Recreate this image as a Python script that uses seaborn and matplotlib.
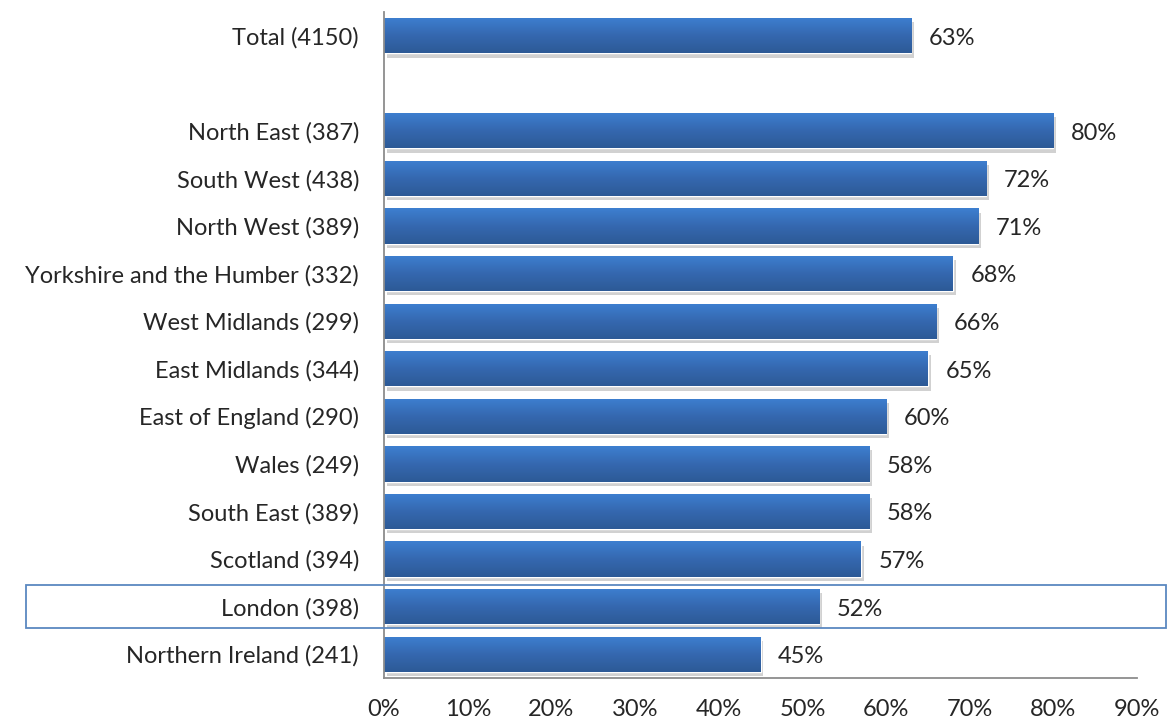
import matplotlib
matplotlib.use("Agg")
import matplotlib.pyplot as plt
import matplotlib.patheffects as pe
from matplotlib.colors import LinearSegmentedColormap
from matplotlib.patches import Rectangle
import numpy as np
import pandas as pd
import seaborn as sns

labels = ["Total (4150)", "North East (387)", "South West (438)", "North West (389)",
          "Yorkshire and the Humber (332)", "West Midlands (299)", "East Midlands (344)",
          "East of England (290)", "Wales (249)", "South East (389)", "Scotland (394)",
          "London (398)", "Northern Ireland (241)"]
values = [0.63, 0.80, 0.72, 0.71, 0.68, 0.66, 0.65, 0.60, 0.58, 0.58, 0.57, 0.52, 0.45]
highlight = "London (398)"

df = pd.DataFrame({"group": labels, "share": values})
order = [labels[0], " "] + labels[1:]

sns.set_style("white")
plt.rcParams["font.family"] = ["Lato", "DejaVu Sans"]

fig = plt.figure(figsize=(11.68, 7.24), dpi=100)
ax = fig.add_axes([0.3288, 0.0635, 0.6447, 0.92])

sns.barplot(data=df, x="share", y="group", order=order, color="#3a76c4",
            width=0.74, ax=ax, saturation=1)

ticks = np.arange(0, 0.91, 0.1)
ax.set_xticks(ticks)
ax.set_xticklabels([f"{int(round(t*100))}%" for t in ticks], fontsize=17)
ax.tick_params(axis="x", pad=15, length=0)
ax.tick_params(axis="y", pad=18, length=0, labelsize=17)
ax.set_xlabel("")
ax.set_ylabel("")
for s in ["top", "right"]:
    ax.spines[s].set_visible(False)
for s in ["left", "bottom"]:
    ax.spines[s].set_color("#8c8c8c")
    ax.spines[s].set_linewidth(1.3)

# gradient fill + soft shadow on bars
cmap = LinearSegmentedColormap.from_list("barblue", ["#3d7fd0", "#3568b0", "#2d5a96"])
grad = np.linspace(0, 1, 64).reshape(-1, 1)
for bar in ax.patches:
    w = bar.get_width()
    if not np.isfinite(w) or w <= 0:
        continue
    y0 = bar.get_y()
    h = bar.get_height()
    bar.set_path_effects([pe.SimplePatchShadow(offset=(2, -3), shadow_rgbFace="#9a9a9a", alpha=0.45),
                          pe.Normal()])
    im = ax.imshow(grad, cmap=cmap, aspect="auto", extent=[0, w, y0 + h, y0],
                   zorder=bar.get_zorder() + 0.1)
    im.set_clip_path(bar)
    ax.text(w + 0.021, y0 + h / 2 + 0.05, f"{int(round(w*100))}%", va="center", ha="left", fontsize=17)

ax.set_xlim(0, 0.9)
ax.set_ylim(len(order) - 0.5, -0.5)

# highlight box around London row
yi = order.index(highlight)
trans = matplotlib.transforms.blended_transform_factory(ax.transAxes, ax.transData)
ax.add_patch(Rectangle((-0.4754, yi - 0.45), 1.5139, 0.9, transform=trans, fill=False,
                       edgecolor="#5b88c0", linewidth=1.3, clip_on=False, zorder=5))

fig.savefig("out.png", dpi=100)
